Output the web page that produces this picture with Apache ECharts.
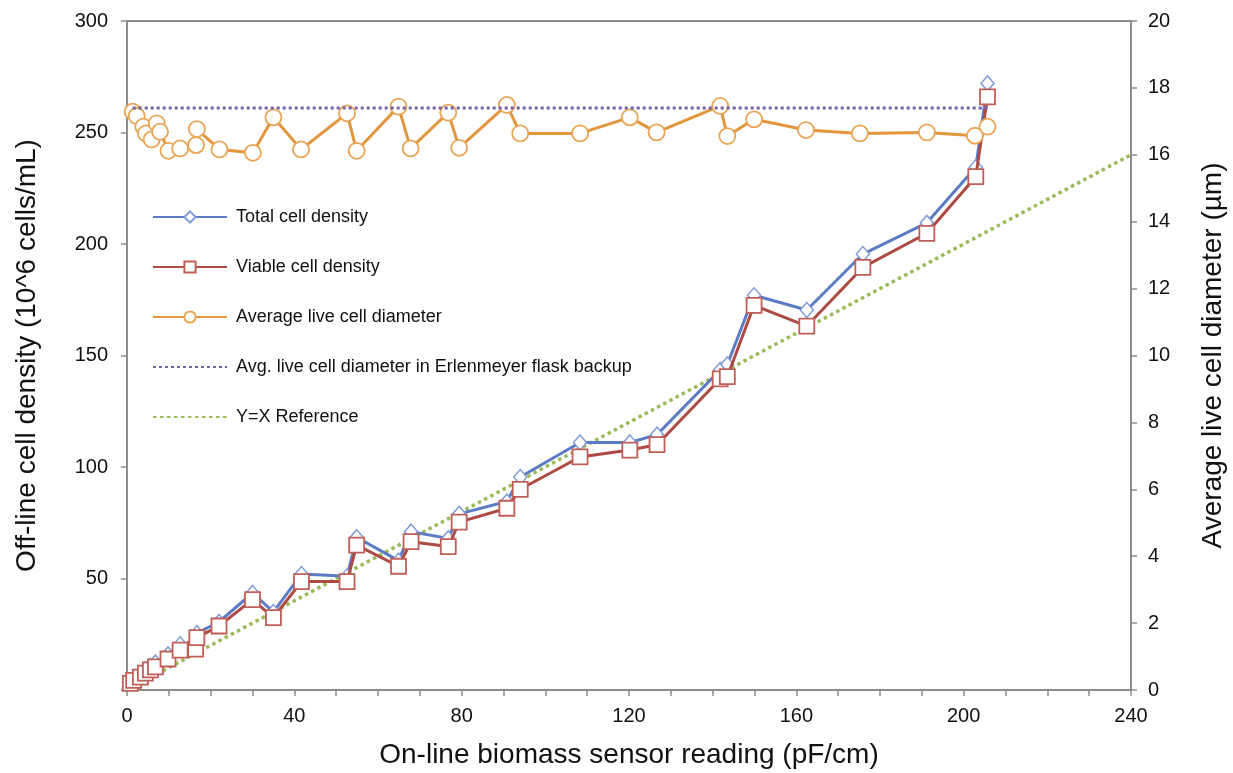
<!DOCTYPE html>
<html>
<head>
<meta charset="utf-8">
<script src="https://cdn.jsdelivr.net/npm/echarts@6/dist/echarts.min.js"></script>
<style>
  html, body { margin: 0; padding: 0; background: #fff; }
  #main { width: 1233px; height: 773px; }
</style>
</head>
<body>
<div id="main"></div>
<script>
var chartDom = document.getElementById('main');
var myChart = echarts.init(chartDom);
var option;

// 在线电容读数 (pF/cm) —— 细胞密度样本
const densX = [0.8, 1.6, 3.2, 4.4, 5.6, 6.8, 9.8, 12.7, 16.4, 16.7, 22.0, 30.0, 35.0, 41.7, 52.6, 54.9,
  64.9, 67.9, 76.8, 79.4, 90.8, 94.0, 108.3, 120.2, 126.7, 141.8, 143.5, 149.9, 162.5, 175.9, 191.2, 202.9, 205.7];
// 总细胞密度 (10^6 cells/mL)
const totalDensity = [3.8, 5.0, 7.0, 9.2, 10.8, 12.3, 16.0, 20.5, 20.0, 25.5, 30.5, 43.5, 35.0, 52.0, 51.0, 68.5,
  58.0, 71.0, 68.0, 79.0, 84.5, 95.5, 111.0, 111.0, 114.5, 143.5, 146.0, 177.0, 170.4, 195.5, 209.5, 234.4, 272.0];
// 活细胞密度
const viableDensity = [3.0, 4.3, 5.8, 7.6, 9.0, 10.4, 13.9, 17.9, 18.3, 23.5, 28.7, 40.5, 32.5, 48.6, 48.6, 65.0,
  55.5, 66.5, 64.3, 75.3, 81.5, 90.0, 104.5, 107.6, 110.0, 139.5, 140.5, 172.5, 163.2, 189.5, 204.8, 230.2, 266.0];

// 平均活细胞直径样本 (µm)
const diamX = [1.36, 2.32, 3.9, 4.54, 5.9, 7.1, 7.9, 9.9, 12.7, 16.5, 16.7, 22.1, 30.1, 35.0, 41.6, 52.6, 54.9,
  64.9, 67.8, 76.8, 79.4, 90.8, 94.0, 108.3, 120.2, 126.6, 141.8, 143.5, 149.9, 162.3, 175.2, 191.2, 202.7, 205.7];
const diameter = [17.29, 17.16, 16.84, 16.64, 16.46, 16.94, 16.69, 16.12, 16.19, 16.29, 16.77, 16.16, 16.06, 17.12, 16.16, 17.24, 16.12,
  17.44, 16.19, 17.26, 16.21, 17.49, 16.64, 16.64, 17.12, 16.67, 17.46, 16.56, 17.06, 16.74, 16.64, 16.67, 16.57, 16.84];

// 摇瓶对照的平均直径 (水平线)
const flaskX = [1.36, 205.7];
const flaskDiameter = [17.4, 17.4];

// Y=X 参考线
const refX = [1.2, 240];

const xLabels = { min: 0, max: 240, interval: 40 };

const zip = (xs, ys) => xs.map((x, i) => [x, ys[i]]);

const font = 'Liberation Sans, Arial, Helvetica, sans-serif';
const axisGray = '#8c8c8c';

option = {
  animation: false,
  backgroundColor: '#fff',
  grid: {
    left: 127, right: 102, top: 21, bottom: 83,
    outerBoundsMode: 'none',
    containLabel: false,
    show: true,
    borderColor: axisGray,
    borderWidth: 2
  },
  legend: {
    orient: 'vertical',
    left: 147,
    top: 203,
    itemWidth: 74,
    itemHeight: 14,
    itemGap: 32,
    textStyle: { fontFamily: font, fontSize: 18, color: '#111', padding: [0, 0, 0, 4] },
    data: [
      'Total cell density',
      'Viable cell density',
      'Average live cell diameter',
      { name: 'Avg. live cell diameter in Erlenmeyer flask backup', itemStyle: { opacity: 0 } },
      { name: 'Y=X Reference', itemStyle: { opacity: 0 } }
    ]
  },
  xAxis: {
    type: 'value',
    min: xLabels.min,
    max: xLabels.max,
    interval: xLabels.interval,
    name: 'On-line biomass sensor reading (pF/cm)',
    nameLocation: 'middle',
    nameGap: 51,
    nameTextStyle: { fontFamily: font, fontSize: 28, color: '#111' },
    axisLine: { lineStyle: { color: axisGray, width: 2 } },
    axisTick: { length: 6, lineStyle: { color: axisGray, width: 1.5 } },
    minorTick: { show: true, splitNumber: 4, length: 6, lineStyle: { color: axisGray, width: 1.5 } },
    axisLabel: { fontFamily: font, fontSize: 20, color: '#111', margin: 16 },
    splitLine: { show: false }
  },
  yAxis: [
    {
      type: 'value',
      min: 0,
      max: 300,
      interval: 50,
      name: 'Off-line cell density (10^6 cells/mL)',
      nameLocation: 'middle',
      nameGap: 86,
      nameTextStyle: { fontFamily: font, fontSize: 28, color: '#111' },
      axisLine: { show: true, lineStyle: { color: axisGray, width: 2 } },
      axisTick: { show: true, length: 6, lineStyle: { color: axisGray, width: 1.5 } },
      axisLabel: {
        fontFamily: font, fontSize: 20, color: '#111', margin: 19,
        formatter: function (v) { return v === 0 ? '' : v; }
      },
      splitLine: { show: false }
    },
    {
      type: 'value',
      min: 0,
      max: 20,
      interval: 2,
      position: 'right',
      name: 'Average live cell diameter (µm)',
      nameLocation: 'middle',
      nameGap: 68,
      nameTextStyle: { fontFamily: font, fontSize: 28, color: '#111' },
      axisLine: { show: true, lineStyle: { color: axisGray, width: 2 } },
      axisTick: { show: true, length: 6, lineStyle: { color: axisGray, width: 1.5 } },
      axisLabel: { fontFamily: font, fontSize: 20, color: '#111', margin: 17 },
      splitLine: { show: false }
    }
  ],
  series: [
    {
      name: 'Y=X Reference',
      type: 'line',
      yAxisIndex: 0,
      data: refX.map(x => [x, x]),
      showSymbol: false,
      symbol: 'none',
      lineStyle: { color: '#9bbb59', width: 3.5, type: [3.5, 3.5] },
      itemStyle: { color: '#9bbb59', opacity: 0 },
      z: 2
    },
    {
      name: 'Total cell density',
      type: 'line',
      yAxisIndex: 0,
      data: zip(densX, totalDensity),
      symbol: 'diamond',
      symbolSize: [13, 15],
      lineStyle: { color: '#5b7cc4', width: 3 },
      itemStyle: { color: '#fff', borderColor: '#7f9bd6', borderWidth: 1.5 },
      z: 3
    },
    {
      name: 'Viable cell density',
      type: 'line',
      yAxisIndex: 0,
      data: zip(densX, viableDensity),
      symbol: 'rect',
      symbolSize: 15,
      lineStyle: { color: '#ad4a43', width: 3 },
      itemStyle: { color: '#fff', borderColor: '#bf5f58', borderWidth: 1.8 },
      z: 4
    },
    {
      name: 'Average live cell diameter',
      type: 'line',
      yAxisIndex: 1,
      data: zip(diamX, diameter),
      symbol: 'circle',
      symbolSize: 16,
      lineStyle: { color: '#e2963e', width: 3 },
      itemStyle: { color: '#fff', borderColor: '#e8a556', borderWidth: 1.8 },
      z: 5
    },
    {
      name: 'Avg. live cell diameter in Erlenmeyer flask backup',
      type: 'line',
      yAxisIndex: 1,
      data: zip(flaskX, flaskDiameter),
      showSymbol: false,
      symbol: 'none',
      lineStyle: { color: '#7461a6', width: 3, type: [3, 3] },
      itemStyle: { color: '#7461a6', opacity: 0 },
      z: 6
    }
  ]
};

option && myChart.setOption(option);
</script>
</body>
</html>
